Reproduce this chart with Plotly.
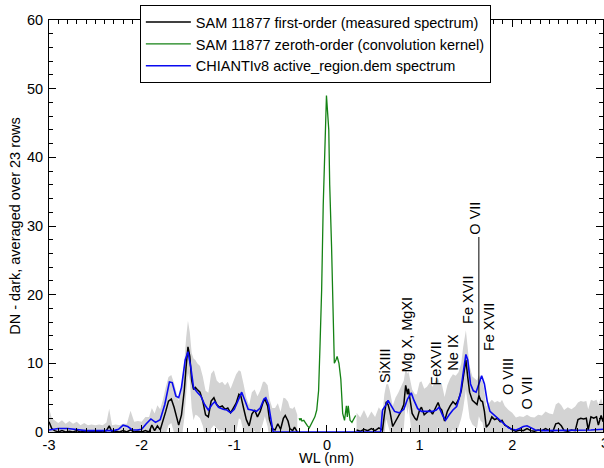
import plotly.graph_objects as go

# ---- first-order measured spectrum (negative side) ----
wl_first_neg = [-3.00, -2.97, -2.94, -2.90, -2.86, -2.82, -2.78, -2.74, -2.70, -2.66,
                -2.62, -2.58, -2.54, -2.50, -2.46, -2.42, -2.38, -2.35, -2.32, -2.28,
                -2.24, -2.20, -2.16, -2.12, -2.08, -2.04, -2.00, -1.96, -1.92, -1.89,
                -1.86, -1.83, -1.80, -1.77, -1.74, -1.71, -1.68, -1.65, -1.62, -1.60,
                -1.57, -1.54, -1.52, -1.50, -1.48, -1.46, -1.44, -1.42, -1.40, -1.37,
                -1.34, -1.31, -1.28, -1.25, -1.22, -1.19, -1.16, -1.13, -1.10, -1.07,
                -1.04, -1.01, -0.98, -0.95, -0.93, -0.90, -0.87, -0.84, -0.81, -0.78,
                -0.75, -0.72, -0.69, -0.67, -0.64, -0.62, -0.59, -0.56, -0.53, -0.50,
                -0.47, -0.45, -0.42, -0.40, -0.37, -0.35, -0.33, -0.32]
dn_first_neg = [1.5, 0.5, 0.2, 0.0, 0.2, 0.0, 0.1, 0.0, 0.2, 0.0,
                0.1, 0.0, 0.1, 0.0, 0.1, 0.0, 0.2, 0.9, 0.0, 0.1,
                0.0, 0.2, 0.0, 0.3, 0.0, 0.1, 0.0, 0.2, 0.0, 1.0,
                0.2, 0.9, 0.3, 1.5, 3.0, 4.5, 4.8, 3.6, 2.0, 1.0,
                2.5, 6.0, 9.5, 12.4, 11.0, 7.5, 6.2, 6.5, 6.2, 5.8,
                4.5, 2.5, 2.2, 4.5, 5.0, 4.0, 3.6, 3.8, 3.3, 3.5,
                2.8, 3.5, 4.2, 5.5, 5.3, 3.5, 1.8, 0.9, 2.6, 3.2,
                2.2, 3.0, 4.3, 4.8, 3.8, 1.8, 0.5, 0.3, 1.2, 0.4,
                2.0, 2.4, 1.6, 0.5, 0.2, 0.7, 0.1, 0.0]
err_first_neg = [2.0, 1.5, 1.5, 1.3, 1.5, 1.2, 1.5, 1.2, 1.3, 1.0,
                 1.2, 1.0, 1.0, 1.0, 1.0, 1.0, 1.2, 2.5, 1.0, 1.0,
                 1.0, 1.0, 1.2, 2.8, 1.5, 1.5, 1.5, 2.0, 2.2, 2.5,
                 2.5, 3.0, 3.0, 3.2, 3.5, 3.5, 3.5, 3.5, 3.5, 3.5,
                 3.8, 4.0, 4.2, 3.8, 3.5, 4.0, 4.5, 4.0, 3.8, 3.8,
                 3.6, 3.5, 3.5, 4.0, 4.0, 3.5, 3.5, 3.5, 3.5, 3.8,
                 3.5, 4.0, 4.2, 3.5, 3.5, 3.5, 3.2, 3.0, 3.2, 3.0,
                 3.0, 3.0, 3.0, 2.5, 3.0, 3.0, 3.0, 3.2, 3.0, 2.5,
                 3.0, 2.5, 2.8, 3.0, 3.2, 3.0, 2.8, 2.5]

# ---- first-order measured spectrum (positive side) ----
wl_first_pos = [0.32, 0.36, 0.40, 0.44, 0.48, 0.52, 0.56, 0.60, 0.62, 0.64,
                0.66, 0.68, 0.71, 0.74, 0.77, 0.80, 0.83, 0.85, 0.87, 0.88,
                0.90, 0.92, 0.95, 0.97, 1.00, 1.02, 1.05, 1.08, 1.11, 1.14,
                1.17, 1.20, 1.22, 1.24, 1.27, 1.30, 1.33, 1.36, 1.39, 1.42,
                1.45, 1.47, 1.50, 1.52, 1.54, 1.57, 1.60, 1.62, 1.64, 1.66,
                1.68, 1.70, 1.72, 1.75, 1.78, 1.81, 1.84, 1.87, 1.89, 1.92,
                1.96, 2.00, 2.04, 2.08, 2.12, 2.16, 2.20, 2.24, 2.28, 2.32,
                2.36, 2.40, 2.44, 2.47, 2.50, 2.53, 2.56, 2.60, 2.64, 2.68,
                2.71, 2.74, 2.77, 2.80, 2.82, 2.85, 2.88, 2.91, 2.93, 2.96,
                2.98]
dn_first_pos = [0.3, 0.1, 0.4, 0.2, 0.5, 0.2, 0.6, 0.3, 2.5, 4.4,
                4.0, 3.0, 0.8, 1.5, 2.2, 3.0, 4.0, 6.8, 5.5, 6.3,
                4.5, 2.7, 2.0, 1.7, 3.2, 3.6, 2.5, 2.8, 3.2, 2.6,
                3.4, 4.3, 3.5, 3.2, 1.6, 3.0, 3.8, 4.4, 4.0, 4.7,
                6.0, 7.8, 10.5, 8.0, 5.8, 4.6, 4.2, 4.0, 5.3, 4.6,
                4.4, 3.0, 0.7, 1.2, 2.2, 1.8, 2.0, 1.5, 1.7, 1.0,
                0.7, 0.3, 0.1, 0.3, 0.2, 0.5, 0.2, 0.1, 0.3, 0.2,
                0.5, 0.2, 0.1, 1.2, 1.3, 0.9, 0.2, 0.1, 0.3, 0.2,
                1.8, 2.0, 1.9, 2.0, 0.3, 2.2, 2.0, 2.2, 1.0, 2.4,
                1.5]
err_first_pos = [2.5, 2.0, 2.8, 1.8, 2.5, 2.0, 3.0, 2.5, 3.0, 2.5,
                 3.0, 3.0, 3.0, 3.5, 3.5, 3.5, 3.5, 2.5, 3.0, 2.5,
                 3.0, 3.5, 3.5, 3.8, 4.0, 3.8, 3.8, 3.8, 4.0, 4.0,
                 4.0, 3.5, 3.5, 3.8, 3.5, 3.8, 4.0, 4.0, 4.2, 4.0,
                 4.0, 4.5, 4.3, 4.0, 3.8, 3.5, 3.5, 3.5, 3.0, 3.0,
                 3.0, 3.0, 3.0, 3.0, 2.5, 2.5, 2.5, 2.8, 3.0, 2.8,
                 2.5, 2.5, 2.0, 2.0, 2.0, 2.0, 2.0, 2.0, 2.2, 2.2,
                 2.5, 2.5, 2.5, 2.8, 3.0, 3.0, 3.0, 3.5, 3.0, 3.5,
                 2.5, 2.5, 2.5, 2.5, 3.0, 2.5, 2.5, 2.5, 3.0, 2.5,
                 2.5]

# ---- zeroth-order (convolution kernel) ----
wl_zero = [-0.30, -0.29, -0.28, -0.27, -0.25, -0.23, -0.21, -0.19, -0.17, -0.15,
           -0.13, -0.11, -0.09, -0.075, -0.057, -0.04, -0.02, -0.005, 0.02, 0.03,
           0.05, 0.07, 0.08, 0.10, 0.11, 0.13, 0.15, 0.17, 0.19, 0.21,
           0.22, 0.23, 0.25, 0.27, 0.29, 0.31]
dn_zero = [2.0, 1.7, 2.0, 1.6, 1.7, 1.2, 0.9, 0.6, 1.2, 1.8,
           2.2, 3.2, 6.0, 12.4, 20.7, 33.0, 42.0, 49.0, 44.0, 36.0,
           27.0, 18.0, 10.0, 10.6, 11.0, 10.0, 7.7, 2.7, 1.7, 3.8,
           2.2, 3.8, 1.7, 1.4, 2.0, 2.4]

# ---- CHIANTI model spectrum ----
wl_chianti = [-3.00, -2.90, -2.80, -2.70, -2.60, -2.50, -2.40, -2.30, -2.25, -2.20,
              -2.15, -2.10, -2.05, -2.00, -1.95, -1.90, -1.85, -1.80, -1.75, -1.70,
              -1.67, -1.63, -1.60, -1.57, -1.53, -1.50, -1.47, -1.44, -1.40, -1.36,
              -1.32, -1.28, -1.24, -1.21, -1.17, -1.12, -1.08, -1.04, -1.00, -0.96,
              -0.92, -0.88, -0.85, -0.81, -0.76, -0.72, -0.68, -0.66, -0.63, -0.60,
              -0.58, 0.58, 0.60, 0.63, 0.66, 0.69, 0.73, 0.78, 0.83, 0.87,
              0.91, 0.94, 0.98, 1.02, 1.08, 1.14, 1.18, 1.21, 1.25, 1.28,
              1.32, 1.36, 1.40, 1.44, 1.47, 1.50, 1.52, 1.55, 1.58, 1.61,
              1.64, 1.67, 1.70, 1.73, 1.76, 1.80, 1.84, 1.88, 1.92, 1.96,
              2.00, 2.04, 2.08, 2.12, 2.16, 2.20, 2.25, 2.35, 2.50, 2.70,
              2.85, 2.98]
dn_chianti = [0.3, 0.5, 0.5, 0.3, 0.2, 0.2, 0.2, 0.2, 0.4, 1.0,
              0.8, 0.3, 0.3, 0.4, 1.2, 1.9, 1.4, 1.8, 4.0, 7.3,
              7.2, 5.2, 5.0, 6.5, 10.5, 11.7, 9.5, 6.5, 5.8, 5.2,
              4.0, 3.2, 4.0, 4.4, 3.6, 3.3, 3.2, 2.8, 3.3, 4.5,
              5.8, 4.4, 3.3, 3.2, 3.0, 3.5, 4.8, 5.0, 4.0, 1.5,
              0.0, 0.0, 3.2, 3.8, 4.6, 3.9, 3.0, 2.8, 3.3, 4.8,
              5.7, 4.6, 3.4, 3.0, 3.0, 3.0, 3.2, 3.6, 2.4, 1.7,
              2.5, 3.2, 3.7, 5.5, 8.5, 11.3, 10.5, 7.0, 6.0, 5.8,
              7.0, 8.2, 7.0, 4.5, 3.0, 2.5, 2.1, 1.6, 1.0, 0.6,
              0.4, 0.3, 0.5, 0.8, 0.9, 0.6, 0.3, 0.2, 0.2, 0.2,
              0.3, 0.4]

# ---- line identifications ----
line_labels = ["SiXIII", "Mg X, MgXI", "FeXVII", "Ne IX", "Fe XVII", "Fe XVII",
               "O VIII", "O VII", "O VII"]
line_x = [0.63, 0.86, 1.18, 1.36, 1.53, 1.75, 1.96, 2.16, 1.60]
line_y = [6.8, 8.3, 6.5, 8.7, 15.4, 11.5, 5.1, 2.9, 28.4]
marker_line_x = [1.64, 1.64]
marker_line_y = [5.1, 28.4]

x_tick_vals = [-3, -2, -1, 0, 1, 2]
x_tick_text = ["-3", "-2", "-1", "0", "1", "2"]

FONT = "Liberation Sans, Arial, Helvetica, sans-serif"
FS = 14.5
fig = go.Figure()

# uncertainty bands
for wl, dn, er in [(wl_first_neg, dn_first_neg, err_first_neg),
                   (wl_first_pos, dn_first_pos, err_first_pos)]:
    hi = [d + e for d, e in zip(dn, er)]
    lo = [d - e for d, e in zip(dn, er)]
    fig.add_trace(go.Scatter(x=wl + wl[::-1], y=hi + lo[::-1], fill="toself",
                             fillcolor="rgb(211,211,211)", line=dict(width=0),
                             mode="lines", showlegend=False, hoverinfo="skip"))

fig.add_trace(go.Scatter(x=wl_first_neg + [None] + wl_first_pos,
                         y=dn_first_neg + [None] + dn_first_pos,
                         mode="lines", line=dict(color="black", width=1.5),
                         name="SAM 11877 first-order (measured spectrum)"))
fig.add_trace(go.Scatter(x=wl_zero, y=dn_zero, mode="lines",
                         line=dict(color="rgb(20,130,20)", width=1.3),
                         name="SAM 11877 zeroth-order (convolution kernel)"))
fig.add_trace(go.Scatter(x=wl_chianti, y=dn_chianti, mode="lines",
                         line=dict(color="rgb(10,10,240)", width=1.6),
                         name="CHIANTIv8 active_region.dem spectrum"))
fig.add_trace(go.Scatter(x=marker_line_x, y=marker_line_y, mode="lines",
                         line=dict(color="black", width=1), showlegend=False,
                         hoverinfo="skip"))

for lab, lx, ly in zip(line_labels, line_x, line_y):
    fig.add_annotation(x=lx, y=ly, text=lab, textangle=-90, showarrow=False,
                       xanchor="center", yanchor="bottom",
                       font=dict(size=FS, color="black", family=FONT))

fig.add_annotation(x=1.0033, y=-0.027, xref="paper", yref="paper", text="3",
                   showarrow=False, xanchor="center", yanchor="middle",
                   font=dict(size=FS, color="black", family=FONT))
fig.add_annotation(x=0.5, y=-0.062, xref="paper", yref="paper", text="WL (nm)",
                   showarrow=False, xanchor="center", yanchor="middle",
                   font=dict(size=FS, color="black", family=FONT))

axis_common = dict(showline=True, linecolor="black", linewidth=1, mirror="ticks",
                   ticks="inside", tickcolor="black", ticklen=7, showgrid=False,
                   zeroline=False, automargin=False,
                   tickfont=dict(size=FS, color="black", family=FONT))

fig.update_layout(
    width=604, height=468,
    margin=dict(l=49, r=1, t=20, b=36, autoexpand=False),
    paper_bgcolor="white", plot_bgcolor="white",
    font=dict(family=FONT, size=FS, color="black"),
    xaxis=dict(range=[-3, 2.98], tickmode="array", tickvals=x_tick_vals,
               ticktext=x_tick_text,
               minor=dict(tickmode="linear", tick0=0, dtick=0.1, ticks="inside",
                          ticklen=4, tickcolor="black"),
               **axis_common),
    yaxis=dict(range=[0, 60], tickmode="linear", tick0=0, dtick=10,
               ticklabelstandoff=2,
               minor=dict(tickmode="linear", tick0=0, dtick=2, ticks="inside",
                          ticklen=4, tickcolor="black"),
               title=dict(text="DN - dark, averaged over 23 rows",
                          font=dict(size=FS, family=FONT), standoff=2),
               **axis_common),
    legend=dict(x=0.164, y=1.036, xanchor="left", yanchor="top",
                bgcolor="white", bordercolor="black", borderwidth=1,
                itemwidth=45,
                font=dict(size=FS, family=FONT), tracegroupgap=0),
    showlegend=True,
)

fig.write_html("out.html", config={"displayModeBar": False},
               post_script="document.body.style.margin='0';document.body.style.overflow='hidden';")
